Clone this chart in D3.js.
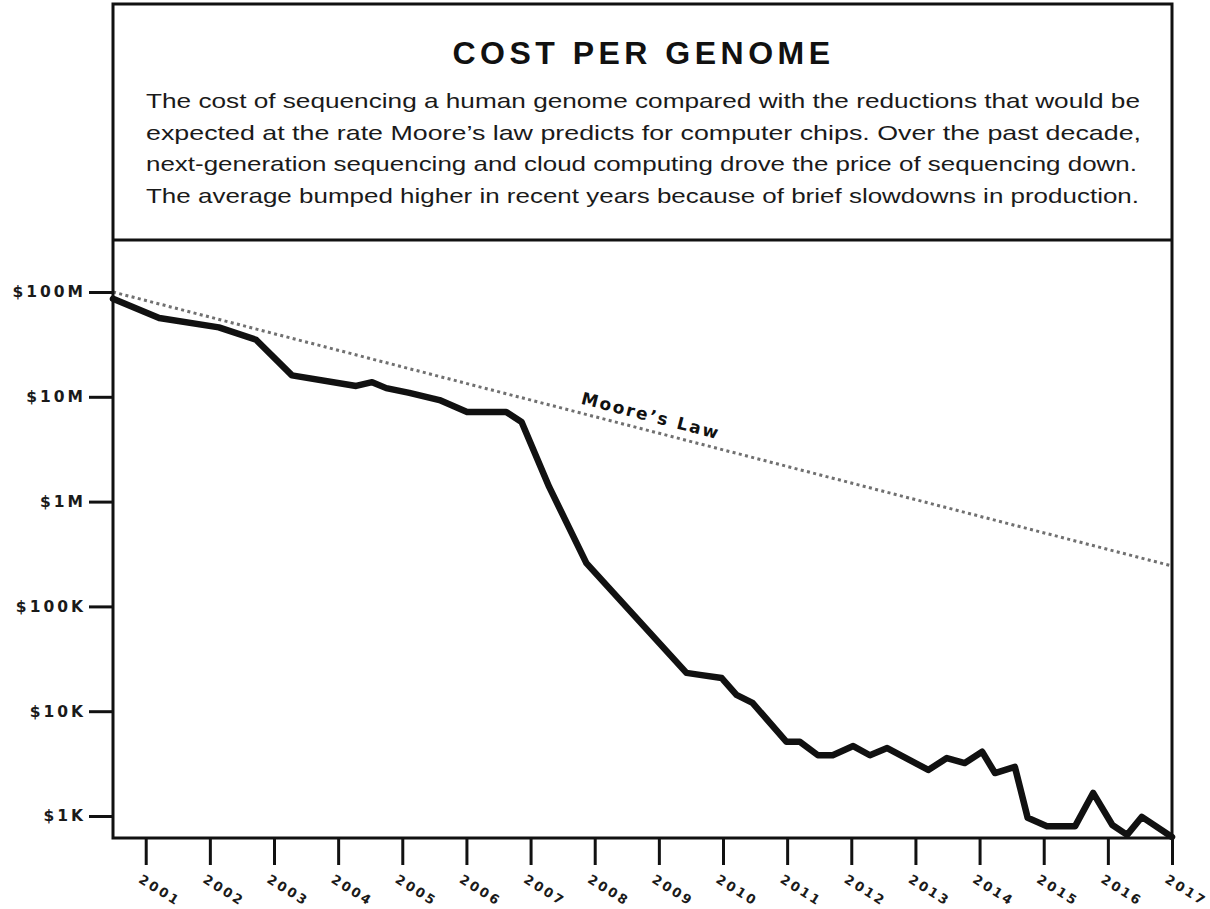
<!DOCTYPE html>
<html>
<head>
<meta charset="utf-8">
<script src="https://cdn.jsdelivr.net/npm/d3@7/dist/d3.min.js"></script>
<style>
body { margin: 0; background: #fff; }
svg { display: block; }
.axis text { font-family: "DejaVu Sans", sans-serif; font-weight: bold; fill: #1a1a1a; }
.axis line { stroke: #111; stroke-width: 3; }
</style>
</head>
<body>
<svg width="1210" height="909"></svg>
<script>
// cost per genome (fractional year, dollars)
var costYears = [2000.49, 2001.21, 2002.14, 2002.72, 2003.28, 2004.28, 2004.53, 2004.75, 2005.11, 2005.58,
    2006.01, 2006.62, 2006.86, 2007.29, 2007.87, 2009.43, 2009.64, 2009.98, 2010.21, 2010.46,
    2010.99, 2011.20, 2011.48, 2011.71, 2012.03, 2012.29, 2012.56, 2013.20, 2013.49, 2013.77,
    2014.04, 2014.24, 2014.55, 2014.75, 2015.05, 2015.49, 2015.77, 2016.07, 2016.30, 2016.53, 2017.00];
var costValues = [86000000, 56500000, 46000000, 35000000, 16000000, 12700000, 13800000, 12100000, 10900000, 9300000,
    7160000, 7160000, 5750000, 1380000, 259000, 23200, 22200, 20700, 14300, 12000,
    5100, 5100, 3800, 3800, 4650, 3800, 4450, 2750, 3570, 3200,
    4100, 2570, 2940, 960, 800, 800, 1660, 820, 660, 980, 630];

// Moore's law reference line
var mooreYears = [2000.49, 2017.00];
var mooreValues = [100000000, 243000];

var yearTicks = [2001, 2002, 2003, 2004, 2005, 2006, 2007, 2008, 2009, 2010, 2011, 2012, 2013, 2014, 2015, 2016, 2017];
var costTicks = [1000, 10000, 100000, 1000000, 10000000, 100000000];
var costTickLabels = ["$1K", "$10K", "$100K", "$1M", "$10M", "$100M"];

var titleText = "COST PER GENOME";
var bodyLines = [
    "The cost of sequencing a human genome compared with the reductions that would be",
    "expected at the rate Moore\u2019s law predicts for computer chips. Over the past decade,",
    "next-generation sequencing and cloud computing drove the price of sequencing down.",
    "The average bumped higher in recent years because of brief slowdowns in production."
];
var mooreLabel = "Moore\u2019s Law";

var svg = d3.select("svg");
var box = {left: 113, right: 1172, top: 4, bottom: 838, divider: 240};

var x = d3.scaleLinear().domain([2000.49, 2017]).range([box.left, box.right]);
var y = d3.scaleLog().domain([1000, 100000000]).range([816, 292]);

// header text
svg.append("text")
    .attr("x", (box.left + box.right) / 2 + 1)
    .attr("y", 64)
    .attr("text-anchor", "middle")
    .style("font-family", "'Liberation Sans', Arial, sans-serif")
    .style("font-weight", "bold")
    .style("font-size", "32px")
    .style("letter-spacing", "4.5px")
    .style("fill", "#111")
    .text(titleText);

var lineEnds = [1140, 1141, 1137, 1139];
svg.selectAll(".body")
    .data(bodyLines)
    .enter().append("text")
    .attr("class", "body")
    .attr("x", 146)
    .attr("y", function(d, i) { return 108 + i * 31.5; })
    .attr("textLength", function(d, i) { return lineEnds[i] - 146; })
    .attr("lengthAdjust", "spacingAndGlyphs")
    .style("font-family", "'Liberation Sans', Arial, sans-serif")
    .style("font-size", "21px")
    .style("fill", "#1a1a1a")
    .text(function(d) { return d; });

// moore's law dotted line
var mooreData = mooreYears.map(function(d, i) { return [d, mooreValues[i]]; });
var line = d3.line()
    .x(function(d) { return x(d[0]); })
    .y(function(d) { return y(d[1]); });

svg.append("path")
    .datum(mooreData)
    .attr("d", line)
    .attr("fill", "none")
    .attr("stroke", "#707070")
    .attr("stroke-width", 3)
    .attr("stroke-dasharray", "3,3.4");

var x1 = x(mooreYears[0]), y1 = y(mooreValues[0]), x2 = x(mooreYears[1]), y2 = y(mooreValues[1]);
var angle = Math.atan2(y2 - y1, x2 - x1) * 180 / Math.PI;
var lx = 647, ly = y1 + (lx - x1) * (y2 - y1) / (x2 - x1);
svg.append("text")
    .attr("transform", "translate(" + lx + "," + ly + ") rotate(" + angle + ")")
    .attr("y", -9)
    .attr("text-anchor", "middle")
    .style("font-family", "'DejaVu Sans', sans-serif")
    .style("font-weight", "bold")
    .style("font-size", "17px")
    .style("letter-spacing", "2px")
    .style("fill", "#111")
    .text(mooreLabel);

// cost line
var costData = costYears.map(function(d, i) { return [d, costValues[i]]; });
svg.append("path")
    .datum(costData)
    .attr("d", line)
    .attr("fill", "none")
    .attr("stroke", "#111")
    .attr("stroke-width", 6.5)
    .attr("stroke-linejoin", "round")
    .attr("stroke-linecap", "round");

// frame
svg.append("rect")
    .attr("x", box.left).attr("y", box.top)
    .attr("width", box.right - box.left).attr("height", box.bottom - box.top)
    .attr("fill", "none").attr("stroke", "#111").attr("stroke-width", 3);
svg.append("line")
    .attr("x1", box.left).attr("x2", box.right)
    .attr("y1", box.divider).attr("y2", box.divider)
    .attr("stroke", "#111").attr("stroke-width", 3);

// axes
var yAxis = svg.append("g")
    .attr("class", "axis")
    .attr("transform", "translate(" + box.left + ",0)")
    .call(d3.axisLeft(y).tickValues(costTicks).tickSize(24).tickPadding(3)
        .tickFormat(function(d, i) { return costTickLabels[i]; }));
yAxis.select(".domain").remove();
yAxis.selectAll("text")
    .style("font-size", "15.5px")
    .style("letter-spacing", "3px");

var xAxis = svg.append("g")
    .attr("class", "axis")
    .attr("transform", "translate(0," + box.bottom + ")")
    .call(d3.axisBottom(x).tickValues(yearTicks).tickSize(27).tickFormat(d3.format("d")));
xAxis.select(".domain").remove();
xAxis.selectAll("text")
    .attr("text-anchor", "start")
    .attr("transform", "translate(-6,40) rotate(32)")
    .attr("x", 0).attr("y", 0).attr("dy", "0.35em")
    .style("font-size", "13px")
    .style("letter-spacing", "2.5px");
</script>
</body>
</html>
